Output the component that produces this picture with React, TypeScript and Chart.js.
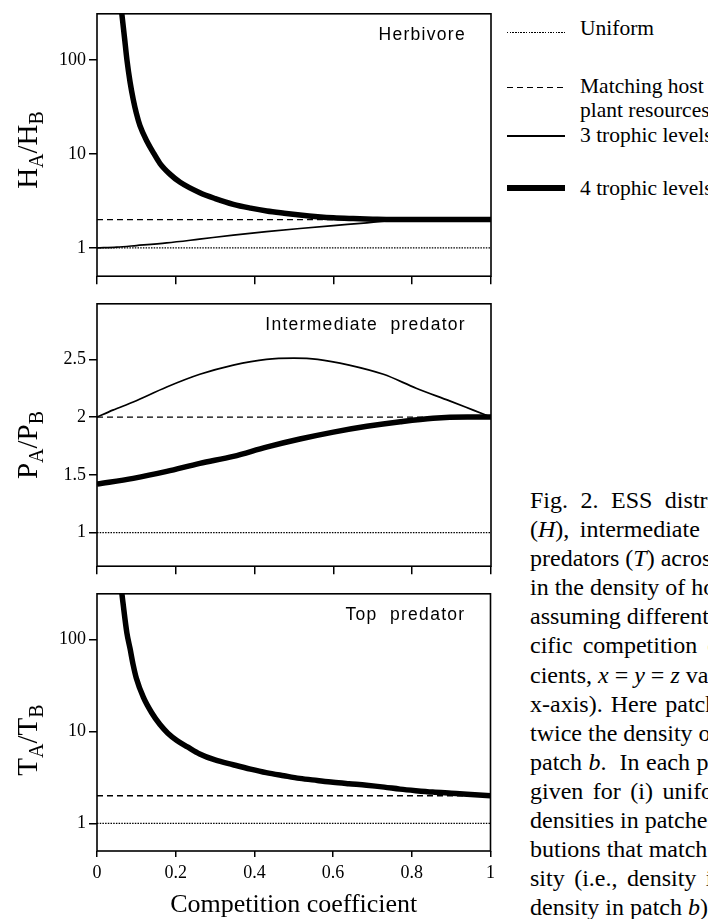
import React, { useEffect, useRef } from 'react';
import { Chart, registerables } from 'chart.js';

Chart.register(...registerables);

// shared axes
const xTicks = [0, 0.2, 0.4, 0.6, 0.8, 1];
const xTickLabels = ['0', '0.2', '0.4', '0.6', '0.8', '1'];
const logTicks = [1, 10, 100];
const ratioTicks = [1, 1.5, 2, 2.5];

// reference distributions (flat across x)
const flatX = [0, 1];
const uniformRatio = [1, 1];
const matchingRatio = [2, 2];

// Herbivore H_A/H_B
const herb3X = [0, 0.05, 0.1, 0.177, 0.26, 0.346, 0.43, 0.515, 0.6, 0.685, 0.74, 0.76, 1];
const herb3Y = [1, 1.02, 1.06, 1.13, 1.24, 1.37, 1.49, 1.61, 1.73, 1.85, 1.95, 2, 2];
const herb4X = [0.055, 0.063, 0.07, 0.076, 0.084, 0.092, 0.1, 0.109, 0.127, 0.145, 0.16, 0.185, 0.211, 0.261, 0.3, 0.346, 0.39, 0.431, 0.475, 0.515, 0.56, 0.6, 0.65, 0.7, 0.75, 0.8, 1];
const herb4Y = [600, 310, 170, 100, 58, 38, 27, 20, 13.6, 10, 7.9, 6.1, 5, 3.87, 3.35, 2.91, 2.65, 2.47, 2.34, 2.24, 2.15, 2.09, 2.05, 2.02, 2, 2, 2];

// Intermediate predator P_A/P_B
const pred3X = [0, 0.04, 0.092, 0.177, 0.261, 0.346, 0.43, 0.5, 0.56, 0.64, 0.727, 0.81, 0.895, 0.955, 1];
const pred3Y = [2, 2.06, 2.13, 2.26, 2.37, 2.45, 2.5, 2.51, 2.5, 2.45, 2.37, 2.25, 2.14, 2.06, 2];
const pred4X = [0, 0.092, 0.177, 0.261, 0.346, 0.43, 0.515, 0.6, 0.685, 0.77, 0.853, 0.94, 1];
const pred4Y = [1.42, 1.47, 1.53, 1.6, 1.66, 1.74, 1.81, 1.87, 1.92, 1.96, 1.99, 2, 2];

// Top predator T_A/T_B
const top4X = [0.055, 0.063, 0.066, 0.076, 0.084, 0.092, 0.1, 0.118, 0.139, 0.16, 0.18, 0.203, 0.23, 0.261, 0.3, 0.346, 0.39, 0.43, 0.475, 0.515, 0.56, 0.6, 0.64, 0.685, 0.73, 0.77, 0.81, 0.853, 0.9, 0.94, 1];
const top4Y = [700, 324, 253, 118, 80, 53, 38, 23.5, 16, 11.9, 9.6, 8, 6.8, 5.7, 4.9, 4.35, 3.9, 3.57, 3.3, 3.09, 2.93, 2.8, 2.7, 2.6, 2.48, 2.36, 2.27, 2.19, 2.13, 2.08, 2];

const serif = '"Liberation Serif", "Times New Roman", serif';
const sans = '"Liberation Sans", Arial, sans-serif';

const pts = (xs: number[], ys: number[]) => xs.map((x, i) => ({ x, y: ys[i] }));

const uniformStyle = { borderWidth: 1.2, borderDash: [1.5, 1.2] };
const matchingStyle = { borderWidth: 1.4, borderDash: [6, 4] };
const threeStyle = { borderWidth: 1.7 };
const fourStyle = { borderWidth: 5.5 };

interface PanelProps {
  top: number;
  height: number;
  xHeight: number;
  xTickLength: number;
  logY: boolean;
  yMin: number;
  yMax: number;
  yTicks: number[];
  label: string;
  title: [string, string, string, string];
  titleY: number;
  showX: boolean;
  three?: [number[], number[]];
  four: [number[], number[]];
}

const Panel: React.FC<PanelProps> = (p) => {
  const ref = useRef<HTMLCanvasElement>(null);

  useEffect(() => {
    if (!ref.current) return;

    const datasets: any[] = [
      { data: pts(flatX, uniformRatio), ...uniformStyle },
      { data: pts(flatX, matchingRatio), ...matchingStyle },
    ];
    if (p.three) datasets.push({ data: pts(p.three[0], p.three[1]), ...threeStyle });
    datasets.push({ data: pts(p.four[0], p.four[1]), ...fourStyle });
    datasets.forEach((d) => {
      d.borderColor = '#000';
      d.pointRadius = 0;
      d.fill = false;
      d.cubicInterpolationMode = 'monotone';
      d.borderCapStyle = 'butt';
    });

    // frame, panel name and subscripted y title
    const decor = {
      id: 'decor',
      afterDatasetsDraw(chart: Chart) {
        const { ctx, chartArea: a } = chart;
        ctx.save();
        ctx.strokeStyle = '#000';
        ctx.lineWidth = 1.6;
        ctx.strokeRect(a.left, a.top, a.right - a.left, a.bottom - a.top);

        ctx.fillStyle = '#000';
        ctx.font = `17.5px ${sans}`;
        (ctx as any).letterSpacing = '1.3px';
        ctx.textAlign = 'right';
        ctx.textBaseline = 'middle';
        ctx.fillText(p.label, a.right - 25, a.top + 21);
        (ctx as any).letterSpacing = '0px';

        const mainFont = `29px ${serif}`;
        const subFont = `20px ${serif}`;
        const parts: [string, boolean][] = [
          [p.title[0], false], [p.title[1], true], ['/' + p.title[2], false], [p.title[3], true],
        ];
        ctx.translate(37, p.titleY);
        ctx.rotate(-Math.PI / 2);
        ctx.textAlign = 'left';
        ctx.textBaseline = 'alphabetic';
        const widths = parts.map(([t, sub]) => {
          ctx.font = sub ? subFont : mainFont;
          return ctx.measureText(t).width;
        });
        let x = -widths.reduce((s, w) => s + w, 0) / 2;
        parts.forEach(([t, sub], i) => {
          ctx.font = sub ? subFont : mainFont;
          ctx.fillText(t, x, sub ? 6 : 0);
          x += widths[i];
        });
        ctx.restore();
      },
    };

    const tickFont = { family: serif, size: 18 };

    const chart = new Chart(ref.current, {
      type: 'line',
      data: { datasets },
      plugins: [decor],
      options: {
        responsive: false,
        animation: false,
        layout: { padding: { top: 8, right: 9, left: 0, bottom: 0 } },
        plugins: { legend: { display: false }, tooltip: { enabled: false } },
        scales: {
          x: {
            type: 'linear',
            min: 0,
            max: 1,
            afterBuildTicks: (s: any) => { s.ticks = xTicks.map((v) => ({ value: v })); },
            afterFit: (s: any) => { s.height = p.xHeight; },
            ticks: {
              display: p.showX,
              maxRotation: 0,
              padding: 11 - p.xTickLength,
              color: '#000',
              font: tickFont,
              callback: (v: any) => xTickLabels[xTicks.indexOf(Number(v))],
            },
            grid: { drawOnChartArea: false, drawTicks: true, tickLength: p.xTickLength, color: '#000', lineWidth: 1.5 },
            border: { display: false },
            title: {
              display: p.showX,
              text: 'Competition coefficient',
              color: '#000',
              font: { family: serif, size: 26, lineHeight: 1.05 },
              padding: { top: 0, bottom: 0 },
            },
          },
          y: {
            type: p.logY ? 'logarithmic' : 'linear',
            min: p.yMin,
            max: p.yMax,
            afterBuildTicks: (s: any) => { s.ticks = p.yTicks.map((v) => ({ value: v })); },
            afterFit: (s: any) => { s.width = 97; },
            ticks: {
              padding: 3,
              color: '#000',
              font: tickFont,
              callback: (v: any) => String(v),
            },
            grid: { drawOnChartArea: false, drawTicks: true, tickLength: 8, color: '#000', lineWidth: 1.5 },
            border: { display: false },
          },
        },
      } as any,
    });

    return () => chart.destroy();
  }, []);

  return (
    <canvas
      ref={ref}
      width={500}
      height={p.height}
      style={{ position: 'absolute', left: 0, top: p.top, width: 500, height: p.height, display: 'block' }}
    />
  );
};

const legendItems = [
  { text: ['Uniform'], lineTop: 33, textTop: 16, line: { height: 1.2, background: 'repeating-linear-gradient(to right, #000 0 1.5px, transparent 1.5px 2.7px)' } },
  {
    text: ['Matching host', 'plant resources'],
    lineTop: 88,
    textTop: 74,
    line: { height: 1.4, background: 'repeating-linear-gradient(to right, #000 0 6px, transparent 6px 10px)' },
  },
  { text: ['3 trophic levels'], lineTop: 136, textTop: 123, line: { height: 1.7, background: '#000' } },
  { text: ['4 trophic levels'], lineTop: 186, textTop: 176, line: { height: 5.5, background: '#000' } },
];

const captionLines: [React.ReactNode, number][] = [
  [<>Fig. 2. ESS distributions of</>, 6.5],
  [<>(<i>H</i>), intermediate predators (<i>P</i>) and top</>, 4.5],
  [<>predators (<i>T</i>) across a difference</>, 0],
  [<>in the density of host plants,</>, 0],
  [<>assuming different interspe-</>, 0],
  [<>cific competition coeffi-</>, 4],
  [<>cients, <i>x</i> = <i>y</i> = <i>z</i> values (on the</>, 0],
  [<>x-axis). Here patch <i>a</i> has</>, 2],
  [<>twice the density of plants in</>, 0],
  [<>patch <i>b</i>.&nbsp; In each panel results are</>, 0.5],
  [<>given for (i) uniform</>, 3.5],
  [<>densities in patches, (ii) distri-</>, 0],
  [<>butions that match plant den-</>, 0],
  [<>sity (i.e., density in patch <i>a</i> is twice</>, 3.5],
  [<>density in patch <i>b</i>), and</>, 0],
];

export default function App() {
  return (
    <div
      style={{
        position: 'fixed',
        left: 0,
        top: 0,
        width: 708,
        height: 919,
        overflow: 'hidden',
        background: '#fff',
        fontFamily: serif,
        color: '#000',
      }}
    >
      <Panel
        top={0}
        height={290}
        xHeight={11}
        xTickLength={8}
        logY
        yMin={0.5}
        yMax={310}
        yTicks={logTicks}
        label="Herbivore"
        title={['H', 'A', 'H', 'B']}
        titleY={150}
        showX={false}
        three={[herb3X, herb3Y]}
        four={[herb4X, herb4Y]}
      />
      <Panel
        top={290}
        height={290}
        xHeight={13}
        xTickLength={8}
        logY={false}
        yMin={0.71}
        yMax={2.98}
        yTicks={ratioTicks}
        label="Intermediate  predator"
        title={['P', 'A', 'P', 'B']}
        titleY={155}
        showX={false}
        three={[pred3X, pred3Y]}
        four={[pred4X, pred4Y]}
      />
      <Panel
        top={580}
        height={339}
        xHeight={68}
        xTickLength={6}
        logY
        yMin={0.5}
        yMax={316}
        yTicks={logTicks}
        label="Top  predator"
        title={['T', 'A', 'T', 'B']}
        titleY={160}
        showX
        four={[top4X, top4Y]}
      />

      {legendItems.map((it, i) => (
        <React.Fragment key={i}>
          <div style={{ position: 'absolute', left: 507, top: it.lineTop - 1, width: 58, ...it.line }} />
          <div style={{ position: 'absolute', left: 580, top: it.textTop, fontSize: 21.5, lineHeight: '24px', whiteSpace: 'nowrap' }}>
            {it.text.map((t, j) => <div key={j}>{t}</div>)}
          </div>
        </React.Fragment>
      ))}

      <div style={{ position: 'absolute', left: 530, top: 486, fontSize: 24, lineHeight: '29.1px' }}>
        {captionLines.map(([content, ws], i) => (
          <div key={i} style={{ whiteSpace: 'nowrap', wordSpacing: ws }}>{content}</div>
        ))}
      </div>
    </div>
  );
}
